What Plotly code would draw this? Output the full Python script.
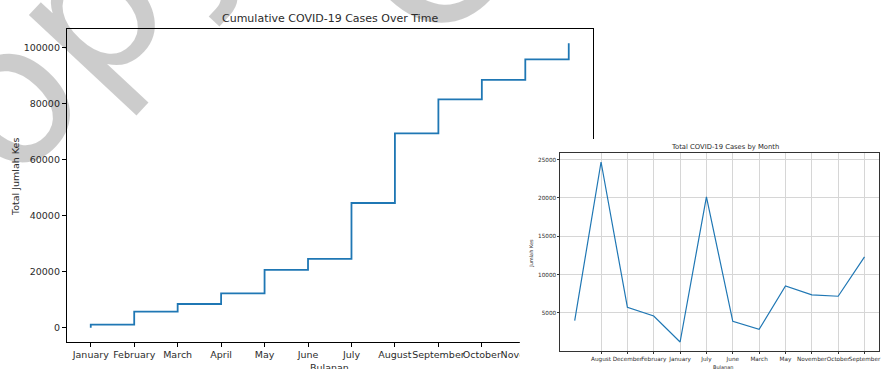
import plotly.graph_objects as go

# ---- data ----
months = ["January", "February", "March", "April", "May", "June", "July",
          "August", "September", "October", "November", "December"]
cumulative_start = 0
cumulative_cases = [1100, 5750, 8500, 12300, 20700, 24600, 44600,
                    69500, 81600, 88600, 95950, 101700]

months_alpha = ["April", "August", "December", "February", "January", "July",
                "June", "March", "May", "November", "October", "September"]
monthly_cases = [3970, 24700, 5700, 4580, 1180, 20150, 3880, 2840, 8500,
                 7330, 7160, 12300]

main_yticks = [0, 20000, 40000, 60000, 80000, 100000]
inset_yticks = [0, 5000, 10000, 15000, 20000, 25000]
inset_xticks = months_alpha[1:]

W, H = 881, 369
def px(x):
    return x / W
def py(y):
    return 1 - y / H

FONT = "DejaVu Sans"
TXT = "#2b2b2b"
BLUE = "#1f77b4"
WM = dict(family="DejaVu Sans", size=195, color="rgba(0,0,0,0.2)")

fig = go.Figure()

# main cumulative step line
fig.add_trace(go.Scatter(
    x=[months[0]] + months,
    y=[cumulative_start] + cumulative_cases,
    mode="lines", line=dict(color=BLUE, width=1.8, shape="hv"),
    xaxis="x", yaxis="y", showlegend=False, hoverinfo="skip"))

# empty trace to create the white cover panel behind the inset
fig.add_trace(go.Scatter(x=[], y=[], xaxis="x2", yaxis="y2",
                         showlegend=False, hoverinfo="skip"))

# inset monthly line
fig.add_trace(go.Scatter(
    x=months_alpha, y=monthly_cases,
    mode="lines", line=dict(color=BLUE, width=1.2),
    xaxis="x3", yaxis="y3", showlegend=False, hoverinfo="skip"))

ymin = cumulative_start - 0.05 * (max(cumulative_cases) - cumulative_start)
ymax = max(cumulative_cases) + 0.05 * (max(cumulative_cases) - cumulative_start)
iy_span = max(monthly_cases) - min(monthly_cases)
iymin = min(monthly_cases) - 0.05 * iy_span
iymax = max(monthly_cases) + 0.05 * iy_span

fig.update_layout(
    width=W, height=H,
    margin=dict(l=0, r=0, t=0, b=0),
    paper_bgcolor="white", plot_bgcolor="white",
    font=dict(family=FONT, color=TXT),
    xaxis=dict(domain=[px(67), px(594)], anchor="y",
               type="category", categoryorder="array", categoryarray=months,
               range=[-0.55, 11.55], showgrid=False, zeroline=False,
               showline=True, mirror=True, linecolor="black", linewidth=1,
               ticks="outside", ticklen=4, tickcolor="black", tickwidth=1,
               tickangle=0, tickfont=dict(size=9.5, family=FONT, color=TXT)),
    yaxis=dict(domain=[py(342), py(29)], anchor="x",
               range=[ymin, ymax], tickvals=main_yticks, tickformat="d",
               showgrid=False, zeroline=False,
               showline=True, mirror=True, linecolor="black", linewidth=1,
               ticks="outside", ticklen=4, tickcolor="black", tickwidth=1,
               tickfont=dict(size=9.5, family=FONT, color=TXT)),
    xaxis2=dict(domain=[px(521), 1.0], anchor="y2", visible=False,
                range=[0, 1]),
    yaxis2=dict(domain=[0.0, py(139)], anchor="x2", visible=False,
                range=[0, 1]),
    xaxis3=dict(domain=[px(561.5), 1.0], anchor="y3",
                type="category", categoryorder="array",
                categoryarray=months_alpha, range=[-0.55, 11.55],
                tickmode="array", tickvals=inset_xticks, ticktext=inset_xticks,
                showgrid=True, gridcolor="#d6d6d6", gridwidth=1,
                zeroline=False, showline=True, mirror=True,
                linecolor="#333333", linewidth=0.8,
                ticks="outside", ticklen=2, tickcolor="#333333",
                tickangle=0, tickfont=dict(size=5.7, family=FONT, color=TXT)),
    yaxis3=dict(domain=[py(351), py(153)], anchor="x3",
                range=[iymin, iymax], tickvals=inset_yticks, tickformat="d",
                showgrid=True, gridcolor="#d6d6d6", gridwidth=1,
                zeroline=False, showline=True, mirror=True,
                linecolor="#333333", linewidth=0.8,
                ticks="outside", ticklen=2, tickcolor="#333333",
                tickfont=dict(size=5.7, family=FONT, color=TXT)),
)

annotations = [
    # watermark
    dict(text="Copy", x=px(40), y=py(60), xref="paper", yref="paper",
         xanchor="center", yanchor="middle", textangle=-47, showarrow=False,
         font=WM),
    dict(text="C", x=px(432), y=py(-40), xref="paper", yref="paper",
         xanchor="center", yanchor="middle", textangle=-47, showarrow=False,
         font=WM),
    # main titles
    dict(text="Cumulative COVID-19 Cases Over Time", x=px(330.5), y=py(19),
         xref="paper", yref="paper", xanchor="center", yanchor="middle",
         showarrow=False, font=dict(size=11, family=FONT, color=TXT)),
    dict(text="Total Jumlah Kes", x=px(15), y=py(177), xref="paper",
         yref="paper", xanchor="center", yanchor="middle", textangle=-90,
         showarrow=False, font=dict(size=9.5, family=FONT, color=TXT)),
    dict(text="Bulanan", x=px(330.5), y=py(367), xref="paper", yref="paper",
         xanchor="center", yanchor="middle", showarrow=False,
         font=dict(size=9.5, family=FONT, color=TXT)),
    # inset titles
    dict(text="Total COVID-19 Cases by Month", x=px(727), y=py(147),
         xref="paper", yref="paper", xanchor="center", yanchor="middle",
         showarrow=False, font=dict(size=6.8, family=FONT, color=TXT)),
    dict(text="Jumlah Kes", x=px(532), y=py(253), xref="paper", yref="paper",
         xanchor="center", yanchor="middle", textangle=-90, showarrow=False,
         font=dict(size=5, family=FONT, color=TXT)),
    dict(text="Bulanan", x=px(725), y=py(367), xref="paper", yref="paper",
         xanchor="center", yanchor="middle", showarrow=False,
         font=dict(size=5, family=FONT, color=TXT)),
]
fig.update_layout(annotations=annotations)

fig.write_html("out.html")
